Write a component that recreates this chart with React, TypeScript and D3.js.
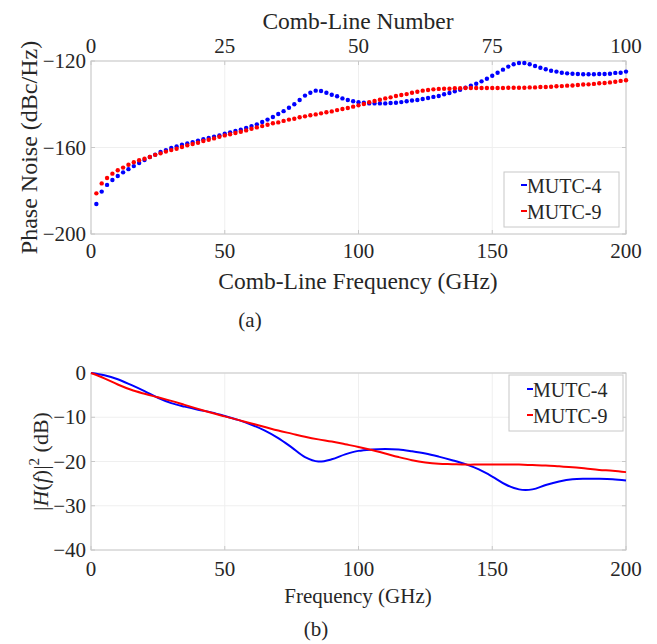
import React from "react";
import * as d3 from "d3";

// (a) phase noise per comb line, lines 1..100 spaced 2 GHz
const combSpacingGHz = 2;
const pnMutc4 = [
  -186.1, -180.4, -177.3, -175.0, -173.2, -171.5, -170.0, -168.6, -167.2, -165.8,
  -164.4, -163.3, -162.1, -161.2, -160.2, -159.5, -158.7, -158.1, -157.5, -156.8,
  -156.2, -155.6, -155.0, -154.4, -153.6, -153.0, -152.4, -151.8, -151.0, -150.1,
  -149.3, -148.2, -147.1, -145.9, -144.5, -143.2, -141.6, -140.0, -138.0, -136.0,
  -134.7, -133.7, -133.9, -134.7, -135.6, -136.3, -137.3, -138.0, -138.6, -139.1,
  -139.3, -139.6, -139.6, -139.6, -139.6, -139.4, -139.3, -139.0, -138.6, -138.3,
  -138.0, -137.6, -137.1, -136.6, -136.2, -135.4, -134.8, -134.0, -133.3, -132.3,
  -131.4, -130.5, -129.4, -128.2, -126.8, -125.4, -124.0, -122.6, -121.5, -120.9,
  -120.9, -121.5, -122.3, -123.1, -123.8, -124.5, -124.9, -125.4, -125.7, -125.9,
  -126.0, -126.1, -126.1, -126.1, -126.0, -126.0, -125.9, -125.5, -125.4, -124.9,
];
const pnMutc9 = [
  -181.2, -176.6, -174.1, -172.1, -170.5, -169.3, -168.0, -166.8, -165.9, -165.2,
  -164.4, -163.4, -162.7, -161.9, -161.2, -160.6, -159.8, -159.0, -158.4, -157.8,
  -157.0, -156.4, -155.8, -155.0, -154.4, -153.9, -153.3, -152.7, -152.1, -151.3,
  -150.7, -150.1, -149.5, -148.8, -148.4, -147.7, -147.1, -146.7, -146.0, -145.6,
  -145.1, -144.7, -144.2, -143.7, -143.3, -142.7, -142.2, -141.7, -141.1, -140.5,
  -139.9, -139.1, -138.5, -137.9, -137.3, -136.8, -136.2, -135.7, -135.3, -134.7,
  -134.2, -133.7, -133.4, -133.1, -132.9, -132.8, -132.8, -132.6, -132.6, -132.5,
  -132.5, -132.5, -132.5, -132.5, -132.5, -132.5, -132.5, -132.4, -132.4, -132.4,
  -132.4, -132.2, -132.2, -132.0, -132.0, -131.9, -131.7, -131.6, -131.4, -131.3,
  -131.1, -130.9, -130.8, -130.6, -130.3, -130.2, -129.9, -129.6, -129.2, -128.9,
];

// (b) |H(f)|^2 response, sampled every 5 GHz
const respFreq = [
  0, 5, 10, 15, 20, 25, 30, 35, 40, 45, 50, 55, 60, 65, 70, 75, 80, 85, 90, 95, 100,
  105, 110, 115, 120, 125, 130, 135, 140, 145, 150, 155, 160, 165, 170, 175, 180, 185, 190, 195, 200,
];
const respMutc4 = [
  0, -0.5, -1.4, -2.7, -4.1, -5.6, -6.8, -7.6, -8.3, -8.9, -9.7, -10.6, -11.7, -13.0, -14.7, -16.8,
  -19.0, -20.0, -19.5, -18.4, -17.6, -17.3, -17.2, -17.3, -17.7, -18.2, -18.9, -19.7, -20.6, -21.8,
  -23.4, -25.2, -26.3, -26.3, -25.3, -24.5, -24.0, -23.9, -23.9, -24.0, -24.3,
];
const respMutc9 = [
  0, -1.2, -2.6, -3.8, -4.7, -5.5, -6.3, -7.2, -8.1, -9.0, -9.8, -10.6, -11.4, -12.2, -13.0, -13.7,
  -14.4, -15.0, -15.5, -16.1, -16.7, -17.4, -18.2, -19.0, -19.7, -20.2, -20.5, -20.6, -20.7, -20.7,
  -20.7, -20.7, -20.7, -20.8, -20.9, -21.1, -21.3, -21.6, -21.9, -22.1, -22.4,
];

const seriesNames = ["MUTC-4", "MUTC-9"];
const seriesColors = ["#0000ff", "#ff0000"];
const freqTicks = [0, 50, 100, 150, 200];
const combTicks = [0, 25, 50, 75, 100];
const pnTicks = [-200, -160, -120];
const respTicks = [-40, -30, -20, -10, 0];

const FONT = "Liberation Serif";
const TXT = "#262626";
const AXC = "#c8c8c8";
const GRID = "#efefef";

const W = 657;
const H = 644;
const left = 91;
const right = 626;
const TICK_FS = 21;

const minus = (t: number) => String(t).replace("-", "\u2212");

function Legend({ x, y, w, h, lx, rows }) {
  return (
    <g>
      <rect x={x} y={y} width={w} height={h} fill="#fff" stroke={AXC} strokeWidth={1} />
      {seriesNames.map((name, i) => (
        <g key={name}>
          <line x1={lx} x2={lx + 6} y1={rows[i] - 8} y2={rows[i] - 8} stroke={seriesColors[i]} strokeWidth={2} />
          <text x={lx + 6} y={rows[i]} fontSize={20} fill={TXT}>
            {name}
          </text>
        </g>
      ))}
    </g>
  );
}

export default function App() {
  const x = d3.scaleLinear().domain([0, 200]).range([left, right]);
  const xComb = d3.scaleLinear().domain([0, 100]).range([left, right]);

  const yA = d3.scaleLinear().domain([-200, -120]).range([234, 61]);
  const yB = d3.scaleLinear().domain([-40, 0]).range([550, 373]);

  const combLines = d3.range(1, pnMutc4.length + 1);
  const pnSeries = [pnMutc4, pnMutc9];
  const respSeries = [respMutc4, respMutc9];

  const line = d3
    .line<number>()
    .x((_, i) => x(respFreq[i]))
    .y((d) => yB(d))
    .curve(d3.curveCatmullRom);

  const frame = (yTop: number, yBot: number) => (
    <rect x={left} y={yTop} width={right - left} height={yBot - yTop} fill="none" stroke={AXC} strokeWidth={1} />
  );

  return (
    <svg
      width={W}
      height={H}
      fontFamily={FONT}
      style={{ position: "absolute", left: 0, top: 0, fontFamily: FONT }}
    >
      <rect width={W} height={H} fill="#fff" />

      {/* ---------- (a) ---------- */}
      {freqTicks.map((t) => (
        <line key={"ga" + t} x1={x(t)} x2={x(t)} y1={61} y2={234} stroke={GRID} />
      ))}
      {pnTicks.map((t) => (
        <line key={"gya" + t} x1={left} x2={right} y1={yA(t)} y2={yA(t)} stroke={GRID} />
      ))}
      {frame(61, 234)}
      {freqTicks.map((t) => (
        <g key={"ta" + t}>
          <line x1={x(t)} x2={x(t)} y1={234} y2={230} stroke={AXC} />
          <text x={x(t)} y={258} textAnchor="middle" fontSize={TICK_FS} fill={TXT}>
            {t}
          </text>
        </g>
      ))}
      {combTicks.map((t) => (
        <g key={"tc" + t}>
          <line x1={xComb(t)} x2={xComb(t)} y1={61} y2={65} stroke={AXC} />
          <text x={xComb(t)} y={53} textAnchor="middle" fontSize={TICK_FS} fill={TXT}>
            {t}
          </text>
        </g>
      ))}
      {pnTicks.map((t) => (
        <g key={"tya" + t}>
          <line x1={left} x2={left + 4} y1={yA(t)} y2={yA(t)} stroke={AXC} />
          <line x1={right} x2={right - 4} y1={yA(t)} y2={yA(t)} stroke={AXC} />
          <text x={86} y={yA(t) + 7} textAnchor="end" fontSize={TICK_FS} fill={TXT}>
            {minus(t)}
          </text>
        </g>
      ))}
      {pnSeries.map((vals, s) =>
        vals.map((v, i) => (
          <circle
            key={s + "-" + i}
            cx={x(combLines[i] * combSpacingGHz)}
            cy={yA(v)}
            r={2.2}
            fill={seriesColors[s]}
          />
        ))
      )}
      <text x={358} y={29} textAnchor="middle" fontSize={23.5} fill={TXT}>
        Comb-Line Number
      </text>
      <text x={358} y={289} textAnchor="middle" fontSize={23.5} fill={TXT}>
        Comb-Line Frequency (GHz)
      </text>
      <text transform={`translate(37,${yA(-160)}) rotate(-90)`} textAnchor="middle" fontSize={24} fill={TXT}>
        Phase Noise (dBc/Hz)
      </text>
      <Legend x={504} y={172} w={115} h={55} lx={521} rows={[193, 219]} />
      <text x={250} y={327} textAnchor="middle" fontSize={21} fill={TXT}>
        (a)
      </text>

      {/* ---------- (b) ---------- */}
      {freqTicks.map((t) => (
        <line key={"gb" + t} x1={x(t)} x2={x(t)} y1={373} y2={550} stroke={GRID} />
      ))}
      {respTicks.map((t) => (
        <line key={"gyb" + t} x1={left} x2={right} y1={yB(t)} y2={yB(t)} stroke={GRID} />
      ))}
      {frame(373, 550)}
      {freqTicks.map((t) => (
        <g key={"tb" + t}>
          <line x1={x(t)} x2={x(t)} y1={550} y2={546} stroke={AXC} />
          <text x={x(t)} y={576} textAnchor="middle" fontSize={TICK_FS} fill={TXT}>
            {t}
          </text>
        </g>
      ))}
      {respTicks.map((t) => (
        <g key={"tyb" + t}>
          <line x1={left} x2={left + 4} y1={yB(t)} y2={yB(t)} stroke={AXC} />
          <line x1={right} x2={right - 4} y1={yB(t)} y2={yB(t)} stroke={AXC} />
          <text x={86} y={yB(t) + 7} textAnchor="end" fontSize={TICK_FS} fill={TXT}>
            {minus(t)}
          </text>
        </g>
      ))}
      {respSeries.map((vals, s) => (
        <path key={"l" + s} d={line(vals) || ""} fill="none" stroke={seriesColors[s]} strokeWidth={2} />
      ))}
      <text transform={`translate(48,${yB(-20)}) rotate(-90)`} textAnchor="middle" fontSize={22} fill={TXT}>
        |<tspan fontStyle="italic">H</tspan>(<tspan fontStyle="italic">f</tspan>)|
        <tspan dy={-9} fontSize={15}>2</tspan>
        <tspan dy={9}> (dB)</tspan>
      </text>
      <text x={358} y={603} textAnchor="middle" fontSize={21} fill={TXT}>
        Frequency (GHz)
      </text>
      <Legend x={509} y={375} w={114} h={56} lx={527} rows={[397, 423]} />
      <text x={316} y={636} textAnchor="middle" fontSize={21} fill={TXT}>
        (b)
      </text>
    </svg>
  );
}
